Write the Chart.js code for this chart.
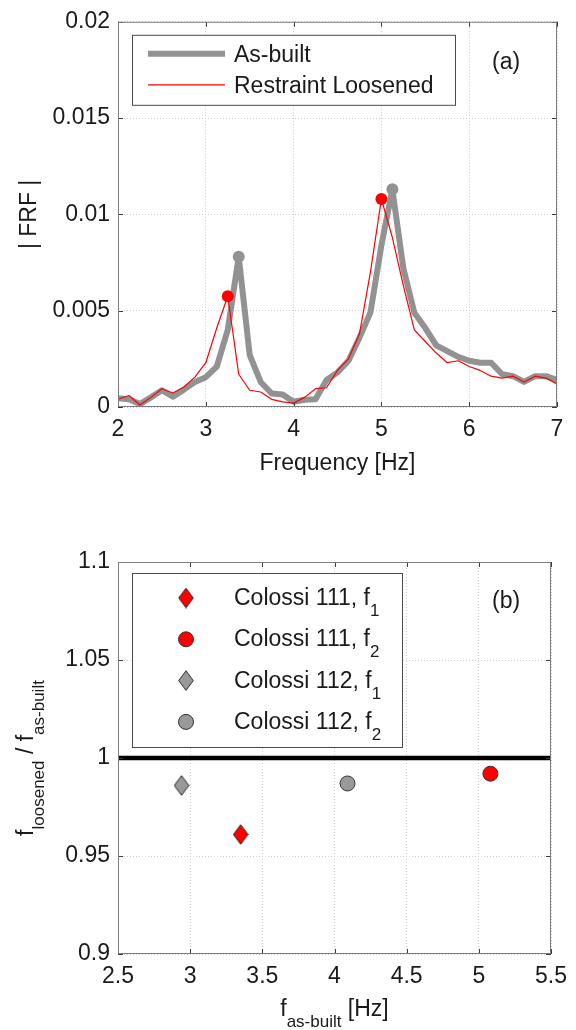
<!DOCTYPE html>
<html><head><meta charset="utf-8">
<script src="https://cdn.jsdelivr.net/npm/chart.js@4/dist/chart.umd.min.js"></script>
<style>
html,body{margin:0;padding:0;background:#fff;}
#wrap{position:relative;width:576px;height:1030px;overflow:hidden;}
.c{position:absolute;left:0;}
</style></head><body>
<div id="wrap">
<div class="c" style="top:0;width:576px;height:500px"><canvas id="c1" width="576" height="500"></canvas></div>
<div class="c" style="top:500px;width:576px;height:530px"><canvas id="c2" width="576" height="530"></canvas></div>
</div>
<script>
// ---------------- data: panel (a) ----------------
const frequencyHz = [2, 2.125, 2.25, 2.375, 2.5, 2.625, 2.75, 2.875, 3, 3.125, 3.25, 3.375, 3.5, 3.625, 3.75, 3.875, 4, 4.125, 4.25, 4.375, 4.5, 4.625, 4.75, 4.875, 5, 5.125, 5.25, 5.375, 5.5, 5.625, 5.75, 5.875, 6, 6.125, 6.25, 6.375, 6.5, 6.625, 6.75, 6.875, 7];
const frfAsBuilt = [0.00045, 0.0004, 0.00015, 0.0005, 0.00087, 0.00053, 0.0009, 0.0013, 0.00155, 0.0021, 0.0040, 0.0078, 0.0027, 0.0013, 0.0007, 0.00065, 0.00027, 0.00038, 0.0004, 0.0014, 0.0018, 0.0024, 0.0036, 0.0049, 0.0084, 0.0113, 0.0072, 0.0049, 0.0041, 0.0032, 0.0029, 0.0026, 0.0024, 0.0023, 0.0023, 0.0017, 0.0016, 0.0013, 0.0016, 0.0016, 0.0014];
const frfLoosened = [0.0004, 0.0006, 0.0001, 0.0005, 0.00095, 0.00073, 0.00104, 0.00155, 0.0023, 0.0041, 0.00575, 0.0017, 0.00087, 0.00078, 0.0004, 0.00027, 0.0002, 0.0005, 0.00095, 0.001, 0.0019, 0.0025, 0.0038, 0.0070, 0.0108, 0.0088, 0.0063, 0.0040, 0.0034, 0.0028, 0.0023, 0.0024, 0.0021, 0.0019, 0.0016, 0.0015, 0.0016, 0.0013, 0.0016, 0.0015, 0.0012];
const asBuiltPeakIndex = [11, 25];
const loosenedPeakIndex = [10, 24];
const frfSeriesNames = ['As-built', 'Restraint Loosened'];
const freqTicks = [2, 3, 4, 5, 6, 7];
const freqTickLabels = ['2', '3', '4', '5', '6', '7'];
const frfTicks = [0, 0.005, 0.01, 0.015, 0.02];
const frfTickLabels = ['0', '0.005', '0.01', '0.015', '0.02'];

// ---------------- data: panel (b) ----------------
const colossiNames = ['Colossi 111, f', 'Colossi 111, f', 'Colossi 112, f', 'Colossi 112, f'];
const colossiModes = ['1', '2', '1', '2'];
const fAsBuiltHz = [3.35, 5.08, 2.94, 4.09];
const fRatio = [0.961, 0.992, 0.986, 0.987];
const refLineX = [2.5, 5.5];
const refLineY = [1, 1];
const fTicks = [2.5, 3, 3.5, 4, 4.5, 5, 5.5];
const fTickLabels = ['2.5', '3', '3.5', '4', '4.5', '5', '5.5'];
const ratioTicks = [0.9, 0.95, 1, 1.05, 1.1];
const ratioTickLabels = ['0.9', '0.95', '1', '1.05', '1.1'];

// ---------------- styling ----------------
const FONT = "'Liberation Sans', Arial, Helvetica, sans-serif";
const TXT = '#1a1a1a';
const GRID = '#cdcdcd';
const GRAY = '#929292';
const RED = '#ff0000';

function axes(xt, xl, yt, yl, xH) {
  const tickFont = {family: FONT, size: 23};
  return {
    x: {type: 'linear', min: xt[0], max: xt[xt.length - 1],
      afterBuildTicks: s => { s.ticks = xt.map(v => ({value: v})); },
      afterFit: s => { s.height = xH; },
      ticks: {font: tickFont, color: TXT, padding: 9, maxRotation: 0, minRotation: 0, autoSkip: false,
        callback: (v, i) => xl[i]},
      grid: {color: GRID, drawTicks: false, lineWidth: 1},
      border: {display: false, dash: [1, 2]}},
    y: {type: 'linear', min: yt[0], max: yt[yt.length - 1],
      afterBuildTicks: s => { s.ticks = yt.map(v => ({value: v})); },
      afterFit: s => { s.width = 118; },
      ticks: {font: tickFont, color: TXT, padding: 8, autoSkip: false,
        callback: (v, i) => yl[i]},
      grid: {color: GRID, drawTicks: false, lineWidth: 1},
      border: {display: false, dash: [1, 2]}}
  };
}

const framePlugin = {
  id: 'frame',
  afterDatasetsDraw(chart) {
    const {ctx, chartArea: a, scales} = chart;
    ctx.save();
    ctx.strokeStyle = '#3c3c3c';
    ctx.lineWidth = 1;
    ctx.beginPath();
    scales.x.ticks.forEach(t => {
      const px = Math.round(scales.x.getPixelForValue(t.value)) + 0.5;
      ctx.moveTo(px, a.top); ctx.lineTo(px, a.top + 5);
      ctx.moveTo(px, a.bottom); ctx.lineTo(px, a.bottom - 5);
    });
    scales.y.ticks.forEach(t => {
      const py = Math.round(scales.y.getPixelForValue(t.value)) + 0.5;
      ctx.moveTo(a.left, py); ctx.lineTo(a.left + 5, py);
      ctx.moveTo(a.right, py); ctx.lineTo(a.right - 5, py);
    });
    ctx.stroke();
    ctx.strokeStyle = '#7d7d7d';
    ctx.strokeRect(a.left + 0.5, a.top + 0.5, a.width - 1, a.height - 1);
    ctx.restore();
  }
};

function richWidth(ctx, parts) {
  let w = 0;
  parts.forEach(p => { ctx.font = p.s + 'px ' + FONT; w += ctx.measureText(p.t).width; });
  return w;
}
function drawRich(ctx, parts, x, y) {
  parts.forEach(p => {
    ctx.font = p.s + 'px ' + FONT;
    ctx.fillText(p.t, x, y + p.dy);
    x += ctx.measureText(p.t).width;
  });
}

// ---------------- panel (a) ----------------
const panelA = {
  id: 'panelA',
  afterDraw(chart) {
    const {ctx, chartArea: a} = chart;
    const ds = chart.data.datasets;
    ctx.save();
    // legend
    const bx = a.left + 14, by = a.top + 13, bw = 323, bh = 70;
    ctx.fillStyle = '#fff';
    ctx.fillRect(bx, by, bw, bh);
    ctx.strokeStyle = '#4a4a4a'; ctx.lineWidth = 1;
    ctx.strokeRect(bx + 0.5, by + 0.5, bw, bh);
    const rows = [by + 19, by + 50];
    ds.forEach((d, i) => {
      ctx.strokeStyle = d.borderColor; ctx.lineWidth = d.borderWidth;
      ctx.beginPath(); ctx.moveTo(bx + 16, rows[i]); ctx.lineTo(bx + 93, rows[i]); ctx.stroke();
      ctx.fillStyle = TXT; ctx.font = '23px ' + FONT; ctx.textBaseline = 'middle'; ctx.textAlign = 'left';
      ctx.fillText(d.label, bx + 102, rows[i] + 2);
    });
    ctx.fillText('(a)', a.left + 374, a.top + 41);
    // axis titles
    ctx.textBaseline = 'alphabetic'; ctx.textAlign = 'center';
    ctx.font = '23px ' + FONT;
    ctx.fillText('Frequency [Hz]', (a.left + a.right) / 2, 470);
    ctx.translate(36, (a.top + a.bottom) / 2);
    ctx.rotate(-Math.PI / 2);
    ctx.fillText('| FRF |', 0, 0);
    ctx.restore();
  }
};

new Chart(document.getElementById('c1'), {
  type: 'line',
  data: {
    datasets: [
      {label: frfSeriesNames[0], data: frequencyHz.map((f, i) => ({x: f, y: frfAsBuilt[i]})),
        borderColor: GRAY, backgroundColor: GRAY, borderWidth: 6, borderJoinStyle: 'round', borderCapStyle: 'round',
        pointRadius: c => asBuiltPeakIndex.includes(c.dataIndex) ? 6 : 0, pointBorderWidth: 0,
        pointBackgroundColor: GRAY, tension: 0, order: 2},
      {label: frfSeriesNames[1], data: frequencyHz.map((f, i) => ({x: f, y: frfLoosened[i]})),
        borderColor: RED, backgroundColor: RED, borderWidth: 1.2, borderJoinStyle: 'round',
        pointRadius: c => loosenedPeakIndex.includes(c.dataIndex) ? 6 : 0, pointBorderWidth: 0,
        pointBackgroundColor: RED, tension: 0, order: 1}
    ]
  },
  options: {
    responsive: false, devicePixelRatio: 1, animation: false, events: [],
    layout: {padding: {top: 15, right: 19, left: 0, bottom: 0}},
    scales: axes(freqTicks, freqTickLabels, frfTicks, frfTickLabels, 93),
    plugins: {legend: {display: false}, tooltip: {enabled: false}}
  },
  plugins: [framePlugin, panelA]
});

// ---------------- panel (b) ----------------
function diamond(fill) {
  const c = document.createElement('canvas');
  c.width = 16; c.height = 21;
  const g = c.getContext('2d');
  g.beginPath();
  g.moveTo(8, 0.7); g.lineTo(15.3, 10.5); g.lineTo(8, 20.3); g.lineTo(0.7, 10.5); g.closePath();
  g.fillStyle = fill; g.fill();
  g.strokeStyle = '#2a2a2a'; g.lineWidth = 1; g.stroke();
  return c;
}
const markerStyles = [
  {pointStyle: diamond(RED), pointBackgroundColor: RED},
  {pointStyle: 'circle', pointBackgroundColor: RED},
  {pointStyle: diamond('#999999'), pointBackgroundColor: '#999999'},
  {pointStyle: 'circle', pointBackgroundColor: '#999999'}
];

const panelB = {
  id: 'panelB',
  afterDraw(chart) {
    const {ctx, chartArea: a} = chart;
    ctx.save();
    const bx = a.left + 14, by = a.top + 11, bw = 270, bh = 174;
    ctx.fillStyle = '#fff';
    ctx.fillRect(bx, by, bw, bh);
    ctx.strokeStyle = '#4a4a4a'; ctx.lineWidth = 1;
    ctx.strokeRect(bx + 0.5, by + 0.5, bw, bh);
    for (let i = 0; i < colossiNames.length; i++) {
      const y = by + 25 + i * 41.3;
      const st = markerStyles[i];
      const mx = a.left + 68;
      if (typeof st.pointStyle === 'string') {
        ctx.beginPath(); ctx.arc(mx, y, 7.5, 0, Math.PI * 2);
        ctx.fillStyle = st.pointBackgroundColor; ctx.fill();
        ctx.strokeStyle = '#333'; ctx.lineWidth = 1; ctx.stroke();
      } else {
        ctx.drawImage(st.pointStyle, mx - st.pointStyle.width / 2, y - st.pointStyle.height / 2);
      }
      ctx.fillStyle = TXT; ctx.textAlign = 'left'; ctx.textBaseline = 'alphabetic';
      drawRich(ctx, [{t: colossiNames[i], s: 23, dy: 0}, {t: colossiModes[i], s: 17, dy: 11}], a.left + 116, y + 7);
    }
    ctx.font = '23px ' + FONT; ctx.textBaseline = 'middle';
    ctx.fillText('(b)', a.left + 374, a.top + 40);
    // x title
    ctx.textBaseline = 'alphabetic';
    const xt = [{t: 'f', s: 23, dy: 0}, {t: 'as-built', s: 17, dy: 11}, {t: ' [Hz]', s: 23, dy: 0}];
    const xw = richWidth(ctx, xt);
    drawRich(ctx, xt, (a.left + a.right) / 2 - xw / 2, 516);
    // y title
    const yt = [{t: 'f', s: 23, dy: 0}, {t: 'loosened', s: 17, dy: 11}, {t: ' / f', s: 23, dy: 0}, {t: 'as-built', s: 17, dy: 11}];
    const yw = richWidth(ctx, yt);
    ctx.translate(33, (a.top + a.bottom) / 2);
    ctx.rotate(-Math.PI / 2);
    drawRich(ctx, yt, -yw / 2, 0);
    ctx.restore();
  }
};

const colossiDatasets = colossiNames.map((n, i) => Object.assign({
  label: n + colossiModes[i],
  data: [{x: fAsBuiltHz[i], y: fRatio[i]}],
  pointRadius: 7.5, pointBorderColor: '#333', pointBorderWidth: 1, order: 1
}, markerStyles[i]));

new Chart(document.getElementById('c2'), {
  type: 'scatter',
  data: {
    datasets: colossiDatasets.concat([{
      label: 'reference', data: refLineX.map((x, i) => ({x: x, y: refLineY[i]})),
      showLine: true, borderColor: '#000', borderWidth: 4.5, pointRadius: 0, order: 5
    }])
  },
  options: {
    responsive: false, devicePixelRatio: 1, animation: false, events: [],
    layout: {padding: {top: 62, right: 19, left: 0, bottom: 0}},
    scales: axes(fTicks, fTickLabels, ratioTicks, ratioTickLabels, 76),
    plugins: {legend: {display: false}, tooltip: {enabled: false}}
  },
  plugins: [framePlugin, panelB]
});
</script>
</body></html>
